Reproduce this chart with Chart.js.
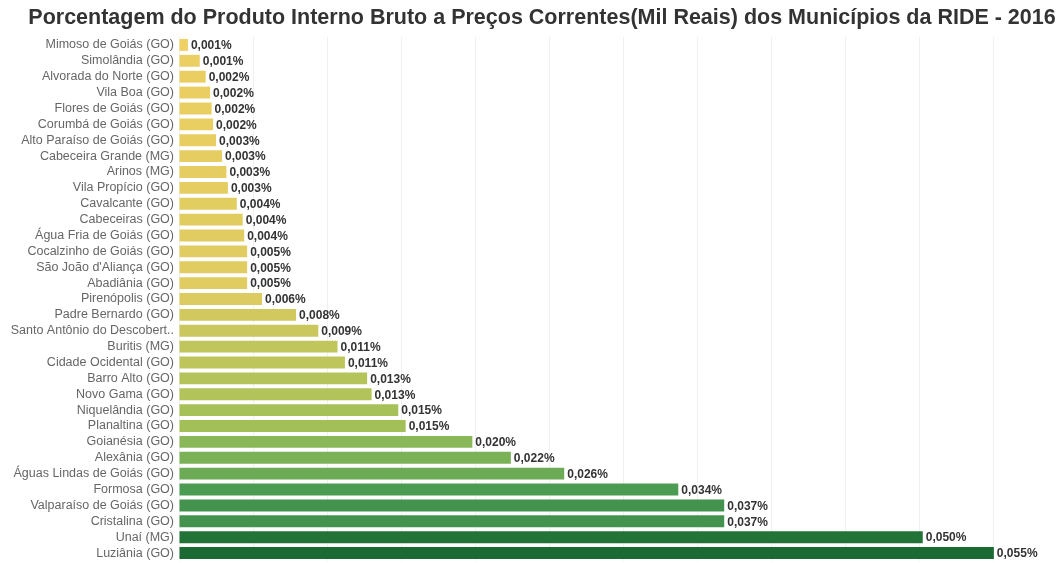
<!DOCTYPE html>
<html>
<head>
<meta charset="utf-8">
<script src="https://cdn.jsdelivr.net/npm/chart.js@4.4.0/dist/chart.umd.min.js"></script>
<style>
  html, body { margin: 0; padding: 0; background: #fff; }
  #wrap { width: 1062px; height: 563px; }
</style>
</head>
<body>
<div id="wrap"><canvas id="myChart"></canvas></div>
<script>
'use strict'
const chartTitle = 'Porcentagem do Produto Interno Bruto a Preços Correntes(Mil Reais) dos Municípios da RIDE - 2016';
// percent of RIDE GDP per municipality (2016)
const municipios = [
  'Mimoso de Goiás (GO)', 'Simolândia (GO)', 'Alvorada do Norte (GO)', 'Vila Boa (GO)',
  'Flores de Goiás (GO)', 'Corumbá de Goiás (GO)', 'Alto Paraíso de Goiás (GO)', 'Cabeceira Grande (MG)',
  'Arinos (MG)', 'Vila Propício (GO)', 'Cavalcante (GO)', 'Cabeceiras (GO)',
  'Água Fria de Goiás (GO)', 'Cocalzinho de Goiás (GO)', 'São João d\'Aliança (GO)', 'Abadiânia (GO)',
  'Pirenópolis (GO)', 'Padre Bernardo (GO)', 'Santo Antônio do Descobert..', 'Buritis (MG)',
  'Cidade Ocidental (GO)', 'Barro Alto (GO)', 'Novo Gama (GO)', 'Niquelândia (GO)',
  'Planaltina (GO)', 'Goianésia (GO)', 'Alexânia (GO)', 'Águas Lindas de Goiás (GO)',
  'Formosa (GO)', 'Valparaíso de Goiás (GO)', 'Cristalina (GO)', 'Unaí (MG)', 'Luziânia (GO)'
];
const percentual = [
  0.0006, 0.0014, 0.0018, 0.0021,
  0.0022, 0.0023, 0.0025, 0.0029,
  0.0032, 0.0033, 0.0039, 0.0043,
  0.0044, 0.0046, 0.0046, 0.0046,
  0.0056, 0.0079, 0.0094, 0.0107,
  0.0112, 0.0127, 0.0130, 0.0148,
  0.0153, 0.0198, 0.0224, 0.0260,
  0.0337, 0.0368, 0.0368, 0.0502, 0.0550
];
const gridStep = 0.005;

// colour ramp yellow -> dark green, picked by value
const rampStops = [
  [0.000, [242, 208, 99]],
  [0.008, [210, 201, 94]],
  [0.015, [165, 193, 88]],
  [0.022, [125, 179, 87]],
  [0.034, [74, 154, 82]],
  [0.037, [67, 146, 79]],
  [0.050, [35, 115, 57]],
  [0.055, [27, 106, 52]]
];
function rampColor(v) {
  for (let i = 1; i < rampStops.length; i++) {
    if (v <= rampStops[i][0]) {
      let a = rampStops[i - 1], b = rampStops[i];
      let t = (v - a[0]) / (b[0] - a[0]);
      let c = a[1].map((x, k) => Math.round(x + (b[1][k] - x) * t));
      return `rgb(${c[0]},${c[1]},${c[2]})`;
    }
  }
  let last = rampStops[rampStops.length - 1][1];
  return `rgb(${last[0]},${last[1]},${last[2]})`;
}

function fmt(v) {
  return v.toFixed(3).replace('.', ',') + '%';
}

const valueLabels = {
  id: 'valueLabels',
  afterDatasetsDraw(chart) {
    const ctx = chart.ctx;
    const meta = chart.getDatasetMeta(0);
    ctx.save();
    ctx.font = 'bold 12px "Liberation Sans", Arial, sans-serif';
    ctx.fillStyle = '#333';
    ctx.textAlign = 'left';
    ctx.textBaseline = 'middle';
    meta.data.forEach((bar, i) => {
      ctx.fillText(fmt(percentual[i]), bar.x + 3, bar.y + 1);
    });
    // title, centred a bit right of the canvas middle like the original
    ctx.font = 'bold 21.5px "Liberation Sans", Arial, sans-serif';
    ctx.textAlign = 'center';
    ctx.fillText(chartTitle, 542, 18);
    ctx.restore();
  }
};

const ctx = document.getElementById('myChart').getContext('2d');
const myChart = new Chart(ctx, {
  type: 'bar',
  data: {
    labels: municipios,
    datasets: [{
      data: percentual,
      backgroundColor: percentual.map(rampColor),
      borderWidth: 0,
      barPercentage: 1,
      categoryPercentage: 0.75
    }]
  },
  options: {
    indexAxis: 'y',
    responsive: true,
    maintainAspectRatio: false,
    animation: false,
    layout: { padding: { top: 37, right: 0, bottom: 2, left: 0 } },
    plugins: {
      legend: { display: false },
      tooltip: { enabled: false },
      title: { display: false }
    },
    scales: {
      x: {
        min: 0,
        max: 0.0596,
        border: { display: false },
        grid: { color: '#f0f0f0', drawTicks: false },
        ticks: { display: false, stepSize: gridStep },
        afterFit: function (scale) {
          scale.height = 0;
          scale.paddingLeft = 0;
          scale.paddingRight = 0;
        }
      },
      y: {
        border: { display: false },
        grid: { display: false, drawTicks: false },
        ticks: {
          color: '#666',
          padding: 5,
          autoSkip: false,
          font: { family: '"Liberation Sans", Arial, sans-serif', size: 12.5 }
        },
        afterFit: function (scale) {
          scale.width = 179;
          scale.paddingTop = 0;
          scale.paddingBottom = 0;
        }
      }
    }
  },
  plugins: [valueLabels]
});
</script>
</body>
</html>
